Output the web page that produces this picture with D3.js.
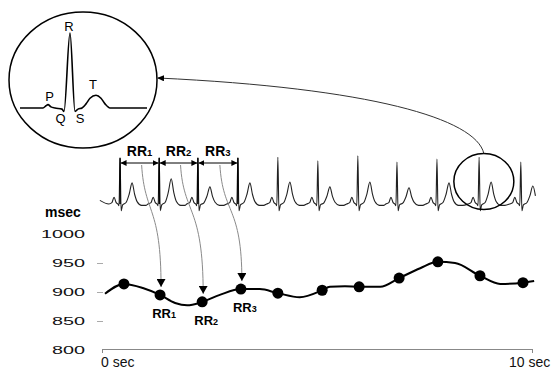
<!DOCTYPE html>
<html>
<head>
<meta charset="utf-8">
<script src="https://cdn.jsdelivr.net/npm/d3@7"></script>
<style>
  body { margin: 0; background: #fff; }
  svg { display: block; font-family: Arial, "Liberation Sans", sans-serif; }
</style>
</head>
<body>
<svg id="chart" width="551" height="368"></svg>
<script>
// ECG strip: R-peak times (sec) and per-beat amplitudes (relative units)
var rTimes = [0.42, 1.33, 2.23, 3.16, 4.09, 5.02, 5.95, 6.86, 7.79, 8.77, 9.74];
var rAmp = [1.0, 1.02, 1.02, 1.02, 1.04, 0.96, 1.07, 0.93, 1.0, 1.04, 0.93];
var tAmp = [0.47, 0.56, 0.38, 0.47, 0.49, 0.38, 0.49, 0.36, 0.47, 0.49, 0.40];

// one heart beat, time relative to R (sec)
var beatT    = [-0.26, -0.19, -0.14, -0.09, -0.05, -0.025, 0, 0.025, 0.06, 0.14, 0.21, 0.28, 0.34, 0.40, 0.50, 0.60];
var beatBase = [0, 0.03, 0.15, 0.03, 0, -0.04, 0, -0.15, -0.02, 0, 0, 0, 0, 0, -0.03, -0.03];
var beatR    = [0, 0, 0, 0, 0, 0, 1, 0, 0, 0, 0, 0, 0, 0, 0, 0];
var beatTw   = [0, 0, 0, 0, 0, 0, 0, 0, 0, 0.07, 0.45, 1, 0.45, 0.1, 0, 0];

// RR intervals marked on the strip
var rrNames = ["1", "2", "3"];

// tachogram: RR interval per beat (msec)
var dotT  = [0.51, 1.35, 2.33, 3.23, 4.09, 5.12, 5.98, 6.91, 7.81, 8.79, 9.79];
var dotMs = [914, 895, 883, 905, 898, 903, 909, 924, 952, 928, 916];
// smooth curve through the tachogram
var curveT  = [0.07, 0.51, 0.95, 1.35, 1.70, 1.98, 2.33, 2.74, 3.23, 3.67, 4.09, 4.60, 5.12, 5.30, 5.65, 5.98, 6.47, 6.91, 7.40, 7.81, 8.21, 8.79, 9.26, 9.79, 10.05];
var curveMs = [897, 914, 907, 895, 881, 877, 883, 895, 905, 905, 898, 891, 903, 909, 910, 909, 909, 924, 941, 952, 950, 928, 914, 916, 919];

var yTicks = [800, 850, 900, 950, 1000];
var xTicks = [0, 10];

// inset: one schematic beat (msec from R, mV)
var insetMs = [-400, -216, -192, -176, -152, -120, -64, -48, 0, 40, 64, 96, 128, 160, 208, 248, 280, 320, 616];
var insetMv = [0, 0, 0.03, 0.045, 0.015, 0, -0.015, -0.045, 1, -0.045, -0.015, 0, 0.055, 0.13, 0.17, 0.13, 0.055, 0, 0];
var waveNames = ["P", "Q", "R", "S", "T"];
var waveMs = [-164, -76, -8, 80, 184];
var waveMv = [0.1, -0.2, 1.03, -0.2, 0.25];

var svg = d3.select("#chart");

var x = d3.scaleLinear().domain([0, 10]).range([102, 532]);
var y = d3.scaleLinear().domain([800, 1000]).range([350, 234]);
var yEcg = d3.scaleLinear().domain([0, 1]).range([204, 159]);

// markers
var defs = svg.append("defs");
defs.append("marker").attr("id", "headBig")
  .attr("markerUnits", "userSpaceOnUse")
  .attr("markerWidth", 9).attr("markerHeight", 9)
  .attr("refX", 8).attr("refY", 4.5).attr("orient", "auto")
  .append("path").attr("d", "M0,0L8,4.5L0,9Z").attr("fill", "#000");
defs.append("marker").attr("id", "headSmall")
  .attr("markerUnits", "userSpaceOnUse")
  .attr("markerWidth", 6).attr("markerHeight", 6)
  .attr("refX", 5.5).attr("refY", 3).attr("orient", "auto-start-reverse")
  .append("path").attr("d", "M0,0L6,3L0,6Z").attr("fill", "#000");
defs.append("marker").attr("id", "headInset")
  .attr("markerUnits", "userSpaceOnUse")
  .attr("markerWidth", 7).attr("markerHeight", 6)
  .attr("refX", 6).attr("refY", 3).attr("orient", "auto")
  .append("path").attr("d", "M0,0L7,3L0,6Z").attr("fill", "#000");

// ---- ECG strip ----
var ecgPts = [{ t: -0.05, v: 0.08 }];
rTimes.forEach(function (r, i) {
  var next = i < rTimes.length - 1 ? rTimes[i + 1] + beatT[0] : 10.12;
  beatT.forEach(function (bt, j) {
    var t = r + bt;
    if (t < next && t <= 10.12) {
      ecgPts.push({ t: t, v: beatBase[j] + rAmp[i] * beatR[j] + tAmp[i] * beatTw[j] });
    }
  });
});

svg.append("path")
  .datum(ecgPts)
  .attr("fill", "none")
  .attr("stroke", "#222")
  .attr("stroke-width", 1.1)
  .attr("d", d3.line().x(d => x(d.t)).y(d => yEcg(d.v)).curve(d3.curveMonotoneX));

// RR brackets
var marked = rTimes.slice(0, 4);
svg.selectAll(".rrTick").data(marked).enter().append("line")
  .attr("x1", d => x(d)).attr("x2", d => x(d))
  .attr("y1", yEcg(0)).attr("y2", yEcg(1.03))
  .attr("stroke", "#000").attr("stroke-width", 1.5);

svg.selectAll(".rrArrow").data(rrNames).enter().append("line")
  .attr("x1", (d, i) => x(marked[i]) + 1)
  .attr("x2", (d, i) => x(marked[i + 1]) - 1)
  .attr("y1", 163).attr("y2", 163)
  .attr("stroke", "#000").attr("stroke-width", 1)
  .attr("marker-start", "url(#headSmall)")
  .attr("marker-end", "url(#headSmall)");

var rrTop = svg.selectAll(".rrTop").data(rrNames).enter().append("text")
  .attr("x", (d, i) => (x(marked[i]) + x(marked[i + 1])) / 2)
  .attr("y", 156)
  .attr("text-anchor", "middle")
  .attr("font-weight", "bold")
  .attr("font-size", 14);
rrTop.append("tspan").text("RR");
rrTop.append("tspan").attr("font-size", 9.5).text(d => d);

// grey arrows from intervals down to the tachogram points
svg.selectAll(".link").data(rrNames).enter().append("path")
  .attr("fill", "none")
  .attr("stroke", "#8a8a8a")
  .attr("stroke-width", 1)
  .attr("marker-end", "url(#headBig)")
  .attr("d", function (d, i) {
    var sx = (x(marked[i]) + x(marked[i + 1])) / 2 + 2, sy = 165;
    var tx = x(dotT[i + 1]) + 1, ty = y(dotMs[i + 1]) - 8;
    return "M" + sx + "," + sy + "C" + (sx + 3) + "," + (sy + 50) + " " + tx + "," + (sy + 40) + " " + tx + "," + ty;
  });

// ---- tachogram ----
svg.append("path")
  .datum(curveT.map((t, i) => ({ t: t, v: curveMs[i] })))
  .attr("fill", "none")
  .attr("stroke", "#000")
  .attr("stroke-width", 2)
  .attr("d", d3.line().x(d => x(d.t)).y(d => y(d.v)).curve(d3.curveMonotoneX));

svg.selectAll(".dot").data(dotT).enter().append("circle")
  .attr("cx", d => x(d))
  .attr("cy", (d, i) => y(dotMs[i]))
  .attr("r", 5.5)
  .attr("fill", "#000");

var rrLow = svg.selectAll(".rrLow").data(rrNames).enter().append("text")
  .attr("x", (d, i) => x(dotT[i + 1]) + 4)
  .attr("y", (d, i) => y(dotMs[i + 1]) + 23)
  .attr("text-anchor", "middle")
  .attr("font-weight", "bold")
  .attr("font-size", 13);
rrLow.append("tspan").text("RR");
rrLow.append("tspan").attr("font-size", 9).text(d => d);

// y axis
var yAxis = svg.append("g")
  .attr("transform", "translate(103,0)")
  .call(d3.axisLeft(y).tickValues(yTicks).tickSize(6).tickFormat(d3.format("d")));
yAxis.select(".domain").remove();
yAxis.selectAll(".tick line")
  .attr("stroke", "#aaa")
  .attr("opacity", d => (d === 800 || d === 1000) ? 0 : 1);
yAxis.selectAll(".tick text")
  .attr("font-family", "Arial, 'Liberation Sans', sans-serif")
  .attr("font-size", 11)
  .attr("fill", "#111")
  .attr("transform", "scale(1.8,1)")
  .attr("x", -18 / 1.8);

svg.append("text")
  .attr("x", 45).attr("y", 217)
  .attr("font-weight", "bold")
  .attr("font-size", 14)
  .text("msec");

// x axis
var xAxis = svg.append("g")
  .attr("transform", "translate(0," + (y(800) - 1) + ")")
  .call(d3.axisBottom(x).tickValues(xTicks).tickSize(4).tickSizeOuter(0).tickFormat(""));
xAxis.select(".domain").attr("stroke", "#888");
xAxis.selectAll(".tick line").attr("stroke", "#888");

svg.selectAll(".xLab").data(xTicks).enter().append("text")
  .attr("x", d => x(d) + (d === 0 ? -1 : -23))
  .attr("y", 366.5)
  .attr("font-size", 14)
  .attr("fill", "#111")
  .text(d => d + " sec");

// ---- zoom ellipse on the strip and the inset ----
var zx = x(8.88), zy = yEcg(0.5);
svg.append("ellipse")
  .attr("cx", zx).attr("cy", zy).attr("rx", 30).attr("ry", 28)
  .attr("fill", "none").attr("stroke", "#000").attr("stroke-width", 1.5);

svg.append("ellipse")
  .attr("cx", 83).attr("cy", 80).attr("rx", 74).attr("ry", 68)
  .attr("fill", "none").attr("stroke", "#000").attr("stroke-width", 1.5);

svg.append("path")
  .attr("fill", "none")
  .attr("stroke", "#333")
  .attr("stroke-width", 1)
  .attr("marker-end", "url(#headInset)")
  .attr("d", "M" + zx + "," + (zy - 28) + "C" + (zx - 8) + "," + (zy - 63) + " 370,88 158,78");

var xIn = d3.scaleLinear().domain([-400, 616]).range([20, 147]);
var yIn = d3.scaleLinear().domain([0, 1]).range([108, 33]);

svg.append("path")
  .datum(insetMs.map((t, i) => ({ t: t, v: insetMv[i] })))
  .attr("fill", "none")
  .attr("stroke", "#000")
  .attr("stroke-width", 1.6)
  .attr("d", d3.line().x(d => x === null ? 0 : xIn(d.t)).y(d => yIn(d.v)).curve(d3.curveMonotoneX));

svg.selectAll(".wave").data(waveNames).enter().append("text")
  .attr("x", (d, i) => xIn(waveMs[i]))
  .attr("y", (d, i) => yIn(waveMv[i]))
  .attr("text-anchor", "middle")
  .attr("font-size", 13)
  .text(d => d);
</script>
</body>
</html>
